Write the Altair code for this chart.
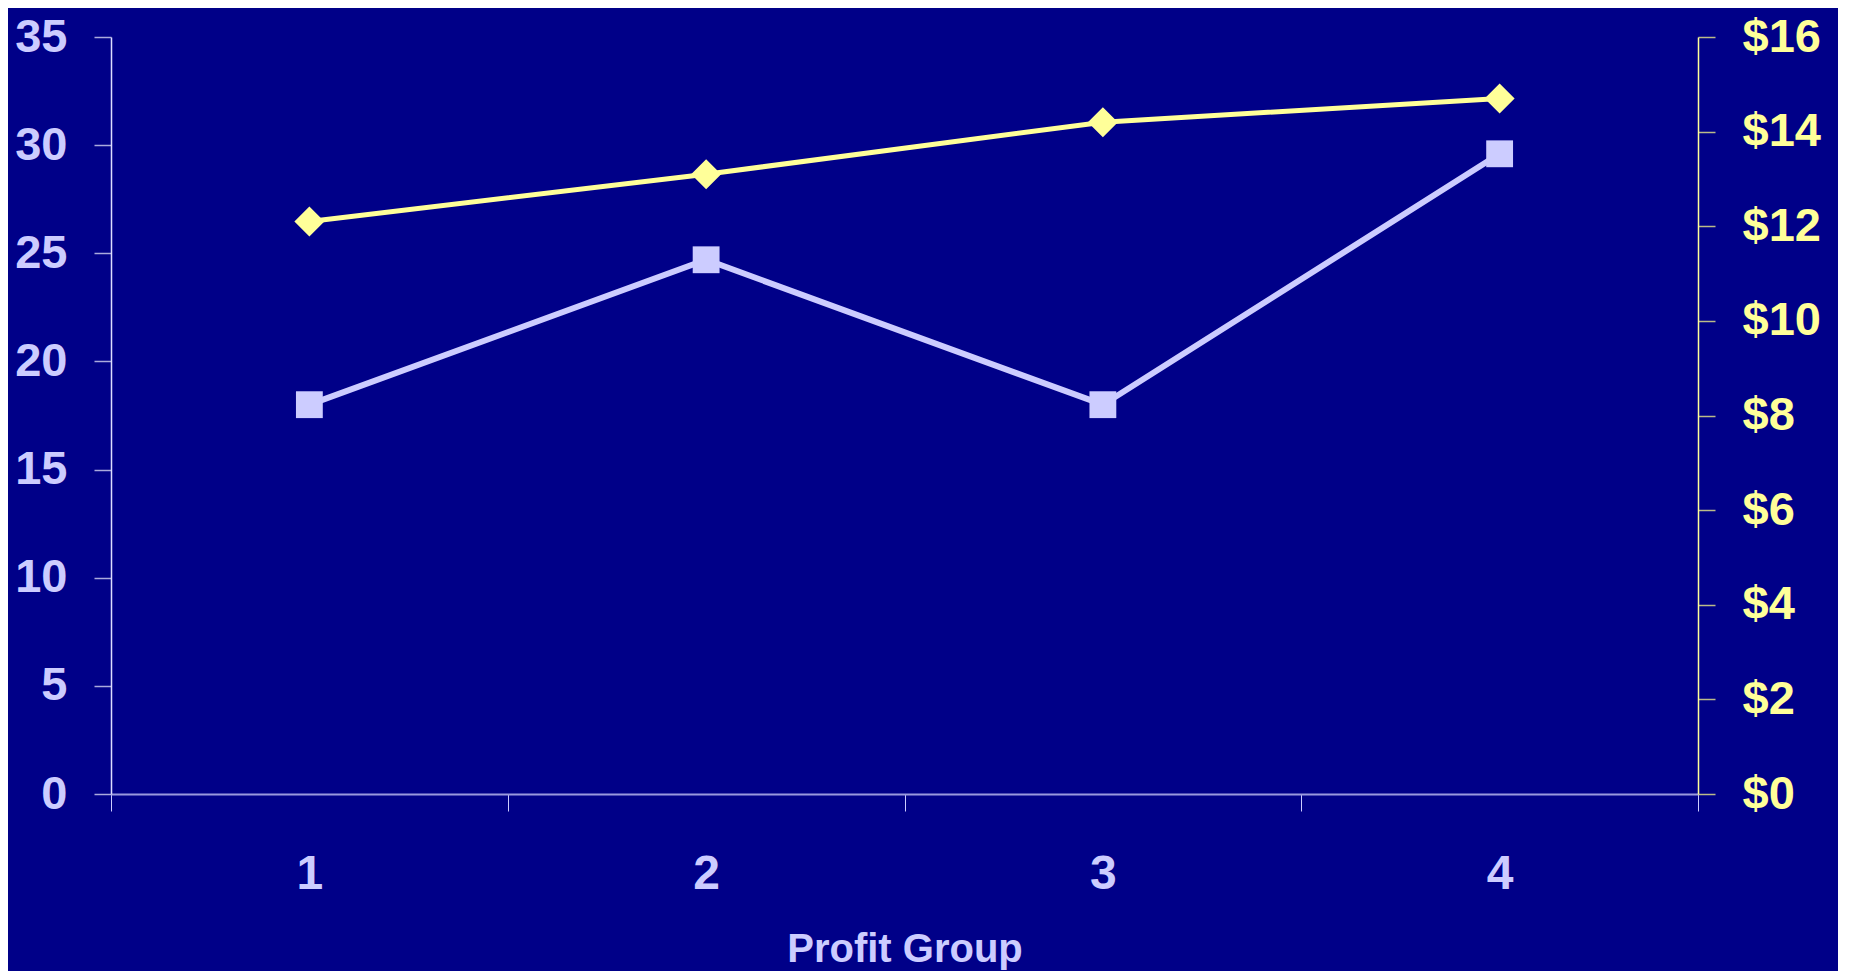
import altair as alt
import pandas as pd

groups = ["1", "2", "3", "4"]
left_values = [18.0, 24.7, 18.0, 29.6]      # left axis (squares)
right_values = [12.1, 13.1, 14.2, 14.7]     # right axis, dollars (diamonds)
left_ticks = [0, 5, 10, 15, 20, 25, 30, 35]
right_ticks = [0, 2, 4, 6, 8, 10, 12, 14, 16]

df = pd.DataFrame({"group": groups, "left": left_values, "right": right_values})

LAV = "#CCCCFF"
YEL = "#FFFF99"
FONT = "Liberation Sans"

x_enc = alt.X(
    "group:O",
    scale=alt.Scale(type="band", paddingInner=0, paddingOuter=0),
    axis=alt.Axis(
        title="Profit Group",
        labelAngle=0,
        tickBand="extent",
        domainColor="#9999DD",
        domainWidth=2,
        tickColor="#CCCCFF",
        tickWidth=1,
        tickSize=17,
        labelColor=LAV,
        labelFontSize=48,
        labelFont=FONT,
        labelFontWeight="bold",
        labelPadding=39,
        titleColor=LAV,
        titleFontSize=40,
        titleFont=FONT,
        titleFontWeight="bold",
        titlePadding=31,
    ),
)

left = alt.Chart(df).mark_line(
    color=LAV, strokeWidth=6,
    point=alt.OverlayMarkDef(shape="square", size=720, filled=True, color=LAV, opacity=1),
).encode(
    x=x_enc,
    y=alt.Y(
        "left:Q",
        scale=alt.Scale(domain=[0, 35], nice=False),
        axis=alt.Axis(
            title=None,
            values=left_ticks,
            grid=False,
            orient="left",
            domainColor="#DDDDFF",
            domainWidth=1.5,
            tickColor="#AAAADD",
            tickWidth=1.5,
            tickSize=17,
            labelColor=LAV,
            labelFontSize=47,
            labelFont=FONT,
            labelFontWeight="bold",
            labelPadding=27,
        ),
    ),
)

right = alt.Chart(df).mark_line(
    color=YEL, strokeWidth=5,
    point=alt.OverlayMarkDef(shape="diamond", size=900, filled=True, color=YEL, opacity=1),
).encode(
    x=x_enc,
    y=alt.Y(
        "right:Q",
        scale=alt.Scale(domain=[0, 16], nice=False),
        axis=alt.Axis(
            title=None,
            values=right_ticks,
            grid=False,
            orient="right",
            domainColor=YEL,
            domainWidth=1.5,
            tickColor="#BBBB88",
            tickWidth=1.5,
            tickSize=17,
            labelColor=YEL,
            labelFontSize=47,
            labelFont=FONT,
            labelFontWeight="bold",
            labelPadding=27,
            labelExpr="'$' + datum.value",
        ),
    ),
)

chart = alt.layer(left, right).resolve_scale(y="independent").properties(
    width=1587,
    height=757,
    padding={"left": 103, "top": 29, "right": 140, "bottom": 177},
    autosize=alt.AutoSizeParams(type="none"),
    background="#000088",
).configure_view(stroke=None)

chart.save("out.html", embed_options={"renderer": "svg", "actions": False})
